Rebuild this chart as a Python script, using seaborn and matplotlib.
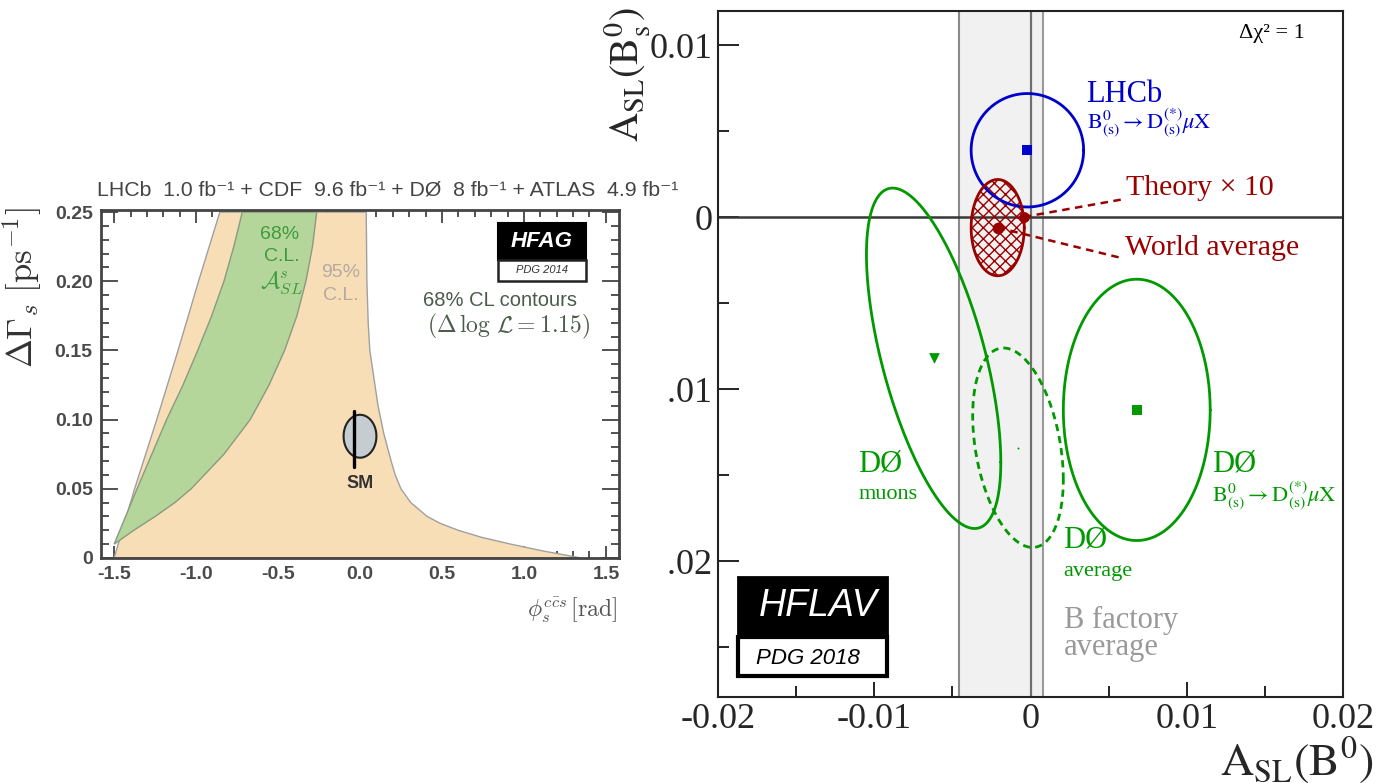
import numpy as np
import matplotlib
matplotlib.use("Agg")
import matplotlib.pyplot as plt
import seaborn as sns
from matplotlib.patches import Rectangle
from matplotlib.ticker import FixedLocator

# ---------------- data : left panel (HFAG, PDG 2014) ----------------
left_xticks = [-1.5, -1.0, -0.5, 0.0, 0.5, 1.0, 1.5]
left_xticklabels = ["-1.5", "-1.0", "-0.5", "0.0", "0.5", "1.0", "1.5"]
left_yticks = [0.0, 0.05, 0.10, 0.15, 0.20, 0.25]
left_yticklabels = ["0", "0.05", "0.10", "0.15", "0.20", "0.25"]

cl95_left_y = [0.0, 0.05, 0.10, 0.15, 0.20, 0.25]
cl95_left_x = [-1.50, -1.375, -1.24, -1.11, -0.985, -0.855]
cl95_right_y = [0.25, 0.20, 0.17, 0.15, 0.13, 0.11, 0.09, 0.07, 0.06, 0.05, 0.04, 0.03,
                0.025, 0.02, 0.015, 0.01, 0.005, 0.0]
cl95_right_x = [0.038, 0.042, 0.05, 0.06, 0.085, 0.11, 0.145, 0.19, 0.215, 0.25, 0.31, 0.41,
                0.49, 0.60, 0.74, 0.92, 1.12, 1.35]

asl_left_y = [0.01, 0.03, 0.05, 0.075, 0.10, 0.125, 0.15, 0.175, 0.20, 0.225, 0.25]
asl_left_x = [-1.50, -1.43, -1.36, -1.27, -1.18, -1.08, -0.99, -0.905, -0.83, -0.77, -0.718]
asl_right_y = [0.25, 0.225, 0.20, 0.175, 0.15, 0.125, 0.10, 0.075, 0.05, 0.04, 0.03, 0.02, 0.01]
asl_right_x = [-0.264, -0.29, -0.33, -0.385, -0.46, -0.555, -0.67, -0.83, -1.03, -1.13, -1.25,
               -1.38, -1.50]

sm_phi, sm_dgamma = 0.0, 0.088
sm_half_phi, sm_half_dgamma = 0.10, 0.0155
sm_bar_phi = -0.037
sm_bar_dgamma = [0.066, 0.106]

# ---------------- data : right panel (HFLAV, PDG 2018) ----------------
right_xticks = [-0.02, -0.01, 0.0, 0.01, 0.02]
right_xticklabels = ["-0.02", "-0.01", "0", "0.01", "0.02"]
right_yticks = [-0.02, -0.01, 0.0, 0.01]
right_yticklabels = ["-0.02", "-0.01", "0", "0.01"]

bfactory_mean, bfactory_err = -0.0019, 0.0027

meas_names = ["LHCb", "D0 muons", "D0 average", "D0 DmuX", "World average"]
meas_asl_d = [-0.0002, -0.0062, -0.0008, 0.0068, -0.0021]
meas_asl_s = [0.0039, -0.0082, -0.0134, -0.0112, -0.0006]
meas_err_d = [0.0036, 0.0043, 0.0029, 0.0047, 0.0017]
meas_err_s = [0.0033, 0.0099, 0.0058, 0.0076, 0.0028]
meas_rho = [0.0, -0.61, -0.32, 0.0, 0.0]

theory_asl_d, theory_asl_s = -0.00043, 0.00002

# ---------------- style ----------------
sns.set_style("white")
plt.rcParams["font.family"] = ["Liberation Serif", "DejaVu Serif"]
plt.rcParams["mathtext.fontset"] = "stix"
plt.rcParams["axes.unicode_minus"] = False
plt.rcParams["hatch.linewidth"] = 1.0

RED = "#990000"
GREEN = "#009900"
BLUE = "#0000CC"
SANS = ["Liberation Sans", "DejaVu Sans"]

W, H = 1376, 783
fig = plt.figure(figsize=(W / 100, H / 100), dpi=100)
fig.patch.set_facecolor("white")


def fx(px):
    return px / W


def fy(py):
    return 1 - py / H


def ellipse_xy(cx, cy, sx, sy, rho, n=400):
    t = np.linspace(0, 2 * np.pi, n)
    x = cx + sx * np.cos(t)
    y = cy + sy * (rho * np.cos(t) + np.sqrt(1 - rho ** 2) * np.sin(t))
    return x, y


# =================== right panel ===================
axR = fig.add_axes([fx(718), fy(697), (1343 - 718) / W, (697 - 11) / H])
axR.set_xlim(-0.02, 0.02)
axR.set_ylim(-0.0279, 0.012)
axR.set_facecolor("white")


def dx(px):
    return (px - 1030) / 15600


def dy(py):
    return (217 - py) / 17200


lo, hi = bfactory_mean - bfactory_err, bfactory_mean + bfactory_err
axR.axvspan(lo, hi, color="#F1F1F1", zorder=0, lw=0)
axR.axvline(lo, color="#8a8a8a", lw=1.5, zorder=1)
axR.axvline(hi, color="#9a9a9a", lw=1.5, zorder=1)
axR.axvline(0, color="#707070", lw=1.6, zorder=1)
axR.axhline(0, color="#383838", lw=1.8, zorder=1)

colors = [BLUE, GREEN, GREEN, GREEN, RED]
styles = ["-", "-", (0, (2.6, 1.8)), "-", "-"]
for i in range(len(meas_names)):
    ex, ey = ellipse_xy(meas_asl_d[i], meas_asl_s[i], meas_err_d[i], meas_err_s[i], meas_rho[i])
    if meas_names[i] == "World average":
        axR.fill(ex, ey, facecolor="none", edgecolor=RED, hatch="xxx", lw=0, zorder=2)
    sns.lineplot(x=ex, y=ey, sort=False, estimator=None, ax=axR, color=colors[i],
                 lw=2.0, linestyle=styles[i], legend=False, zorder=3)

markers = ["s", "v", "o", "s", "o"]
msizes = [55, 60, 2, 55, 70]
for i in range(len(meas_names)):
    sns.scatterplot(x=[meas_asl_d[i]], y=[meas_asl_s[i]], marker=markers[i], s=msizes[i],
                    color=colors[i], edgecolor=colors[i], linewidth=0, ax=axR, zorder=4, legend=False)
sns.scatterplot(x=[theory_asl_d], y=[theory_asl_s], marker="o", s=60, color=RED,
                edgecolor=RED, linewidth=0, ax=axR, zorder=4, legend=False)

# leader lines to the labels
lab_x = dx(1122)
sns.lineplot(x=[theory_asl_d, lab_x], y=[theory_asl_s, dy(199)], ax=axR, color=RED, lw=1.8,
             linestyle=(0, (3, 2.2)), sort=False, estimator=None, legend=False, zorder=3)
sns.lineplot(x=[meas_asl_d[4], lab_x], y=[meas_asl_s[4], dy(258)], ax=axR, color=RED, lw=1.8,
             linestyle=(0, (3, 2.2)), sort=False, estimator=None, legend=False, zorder=3)

# ticks
axR.xaxis.set_major_locator(FixedLocator(right_xticks))
axR.yaxis.set_major_locator(FixedLocator(right_yticks))
axR.xaxis.set_minor_locator(FixedLocator([-0.015, -0.005, 0.005, 0.015]))
axR.yaxis.set_minor_locator(FixedLocator([-0.025, -0.015, -0.005, 0.005]))
axR.set_xticklabels(right_xticklabels, fontsize=26)
axR.set_yticklabels(right_yticklabels, fontsize=26)
axR.tick_params(axis="x", which="major", direction="in", length=11, width=1.4, pad=4, color="#222")
axR.tick_params(axis="x", which="minor", direction="in", length=8, width=1.4, color="#222")
axR.tick_params(axis="y", which="major", direction="in", length=15, width=1.4, pad=4, color="#222")
axR.tick_params(axis="y", which="minor", direction="in", length=8, width=1.4, color="#222")
axR.tick_params(top=False, right=False, bottom=True, left=True, which="both")
for sp in axR.spines.values():
    sp.set_color("#222")
    sp.set_linewidth(1.5)
axR.set_xlabel("")
axR.set_ylabel("")

axR.text(dx(1238), dy(33), "Δχ² = 1", fontsize=16, va="center", ha="left", color="black")
axR.text(dx(1086), dy(94), "LHCb", fontsize=22, va="center", color=BLUE)
axR.text(dx(1086), dy(123), r"$\mathrm{B^0_{(s)}}\rightarrow\mathrm{D^{(*)}_{(s)}}\mu\mathrm{X}$",
         fontsize=16, va="center", color=BLUE)
axR.text(dx(1125), dy(188), "Theory × 10", fontsize=21.5, va="center", color=RED)
axR.text(dx(1124), dy(248), "World average", fontsize=21.5, va="center", color=RED)
axR.text(dx(858), dy(464), "DØ", fontsize=22, va="center", color=GREEN)
axR.text(dx(858), dy(494), "muons", fontsize=16, va="center", color=GREEN)
axR.text(dx(1211), dy(464), "DØ", fontsize=22, va="center", color=GREEN)
axR.text(dx(1211), dy(496), r"$\mathrm{B^0_{(s)}}\rightarrow\mathrm{D^{(*)}_{(s)}}\mu\mathrm{X}$",
         fontsize=16, va="center", color=GREEN)
axR.text(dx(1063), dy(540), "DØ", fontsize=22, va="center", color=GREEN)
axR.text(dx(1063), dy(571), "average", fontsize=16, va="center", color=GREEN)
axR.text(dx(1063), dy(620), "B factory", fontsize=22, va="center", color="#999999")
axR.text(dx(1063), dy(647), "average", fontsize=22, va="center", color="#999999")

# HFLAV logo
bx0, bx1 = dx(738), dx(887)
by_top, by_mid, by_bot = dy(577), dy(637), dy(676)
axR.add_patch(Rectangle((bx0, by_mid), bx1 - bx0, by_top - by_mid, facecolor="black",
                        edgecolor="black", lw=2, zorder=5))
axR.add_patch(Rectangle((bx0, by_bot), bx1 - bx0, by_mid - by_bot, facecolor="white",
                        edgecolor="black", lw=3, zorder=5))
axR.text(dx(818), dy(606), "HFLAV", family=SANS, style="italic", fontsize=27, color="white",
         ha="center", va="center", zorder=6)
axR.text(dx(808), dy(658), "PDG 2018", family=SANS, style="italic", fontsize=16, color="black",
         ha="center", va="center", zorder=6)

fig.text(fx(628), fy(75), r"$\mathrm{A_{SL}(B^0_s)}$", rotation=90, fontsize=29,
         ha="center", va="center", zorder=3)
fig.text(fx(1373), fy(736), r"$\mathrm{A_{SL}(B^0)}$", fontsize=33, ha="right", va="top", zorder=3)

# =================== occluder (inset picture background) ===================
fig.add_artist(Rectangle((0, fy(632)), fx(668), (632 - 168) / H, transform=fig.transFigure,
                         facecolor="white", edgecolor="none", zorder=1))

# =================== left panel ===================
axL = fig.add_axes([fx(101), fy(558), (619 - 101) / W, (558 - 210) / H])
axL.set_zorder(2)
axL.set_xlim(-1.58, 1.58)
axL.set_ylim(0, 0.2515)
axL.set_facecolor("white")

tan_x = cl95_left_x + cl95_right_x
tan_y = cl95_left_y + cl95_right_y
axL.fill(tan_x, tan_y, facecolor="#F8DEB6", edgecolor="#a0a0a0", lw=1.0, zorder=1)
grn_x = asl_left_x + asl_right_x
grn_y = asl_left_y + asl_right_y
axL.fill(grn_x, grn_y, facecolor="#B5D69B", edgecolor="#8a9a80", lw=1.0, zorder=2)

smx, smy = ellipse_xy(sm_phi, sm_dgamma, sm_half_phi, sm_half_dgamma, 0.0)
axL.fill(smx, smy, facecolor="#C6CDD1", edgecolor="#222", lw=1.5, zorder=3)
sns.lineplot(x=[sm_bar_phi, sm_bar_phi], y=sm_bar_dgamma, ax=axL, color="black", lw=2.4,
             sort=False, estimator=None, legend=False, zorder=4)
axL.text(0.0, 0.054, "SM", family=SANS, fontsize=13, weight="bold", color="#333",
         ha="center", va="center")

axL.text(-0.49, 0.234, "68%", family=SANS, fontsize=14, color="#3f9a3f", ha="center", va="center")
axL.text(-0.48, 0.218, "C.L.", family=SANS, fontsize=14, color="#3f9a3f", ha="center", va="center")
axL.text(-0.48, 0.199, r"$\mathcal{A}^{s}_{SL}$", fontsize=17, color="#3f9a3f", ha="center",
         va="center", math_fontfamily="cm")
axL.text(-0.12, 0.206, "95%", family=SANS, fontsize=14, color="#b3aaa2", ha="center", va="center")
axL.text(-0.12, 0.190, "C.L.", family=SANS, fontsize=14, color="#b3aaa2", ha="center", va="center")
axL.text(0.856, 0.186, "68% CL contours", family=SANS, fontsize=14.5, color="#4b5b4b",
         ha="center", va="center")
axL.text(0.905, 0.167, r"$(\Delta\,\log\,\mathcal{L} = 1.15)$", fontsize=17, color="#4b5b4b",
         ha="center", va="center", math_fontfamily="cm")

# HFAG logo
axL.add_patch(Rectangle((0.843, 0.2155), 1.376 - 0.843, 0.242 - 0.2155, facecolor="black",
                        edgecolor="black", lw=1.5, zorder=5))
axL.add_patch(Rectangle((0.843, 0.2005), 1.376 - 0.843, 0.2155 - 0.2005, facecolor="white",
                        edgecolor="#222", lw=1.8, zorder=5))
axL.text(1.11, 0.2288, "HFAG", family=SANS, style="italic", weight="bold", fontsize=16,
         color="white", ha="center", va="center", zorder=6)
axL.text(1.11, 0.208, "PDG 2014", family=SANS, style="italic", fontsize=8, color="#333",
         ha="center", va="center", zorder=6)

axL.xaxis.set_major_locator(FixedLocator(left_xticks))
axL.yaxis.set_major_locator(FixedLocator(left_yticks))
axL.xaxis.set_minor_locator(FixedLocator(list(np.round(np.arange(-1.5, 1.51, 0.1), 2))))
axL.yaxis.set_minor_locator(FixedLocator(list(np.round(np.arange(0.0, 0.251, 0.01), 3))))
axL.set_xticklabels(left_xticklabels, family=SANS, fontsize=14, weight="bold", color="#4a4a4a")
axL.set_yticklabels(left_yticklabels, family=SANS, fontsize=14, weight="bold", color="#4a4a4a")
axL.tick_params(which="both", direction="in", top=True, right=True, bottom=True, left=True,
                color="#444", width=1.3)
axL.tick_params(axis="x", which="major", length=9, pad=6)
axL.tick_params(axis="x", which="minor", length=5)
axL.tick_params(axis="y", which="major", length=12, pad=6)
axL.tick_params(axis="y", which="minor", length=6)
for sp in axL.spines.values():
    sp.set_color("#444")
    sp.set_linewidth(2)
axL.set_xlabel("")
axL.set_ylabel("")

fig.text(fx(97), fy(190), "LHCb  1.0 fb⁻¹ + CDF  9.6 fb⁻¹ + DØ  8 fb⁻¹ + ATLAS  4.9 fb⁻¹",
         family=SANS, fontsize=15.3, color="#444", ha="left", va="center", zorder=3)
fig.text(fx(22), fy(288), r"$\Delta\Gamma_s\ [\mathrm{ps}^{-1}]$", rotation=90, fontsize=25,
         color="#333", ha="center", va="center", math_fontfamily="cm", zorder=3)
fig.text(fx(617), fy(610), r"$\phi_s^{c\bar{c}s}\,[\mathrm{rad}]$", fontsize=17, color="#555",
         ha="right", va="center", math_fontfamily="cm", zorder=3)

fig.savefig("out.png", dpi=100, facecolor="white")
